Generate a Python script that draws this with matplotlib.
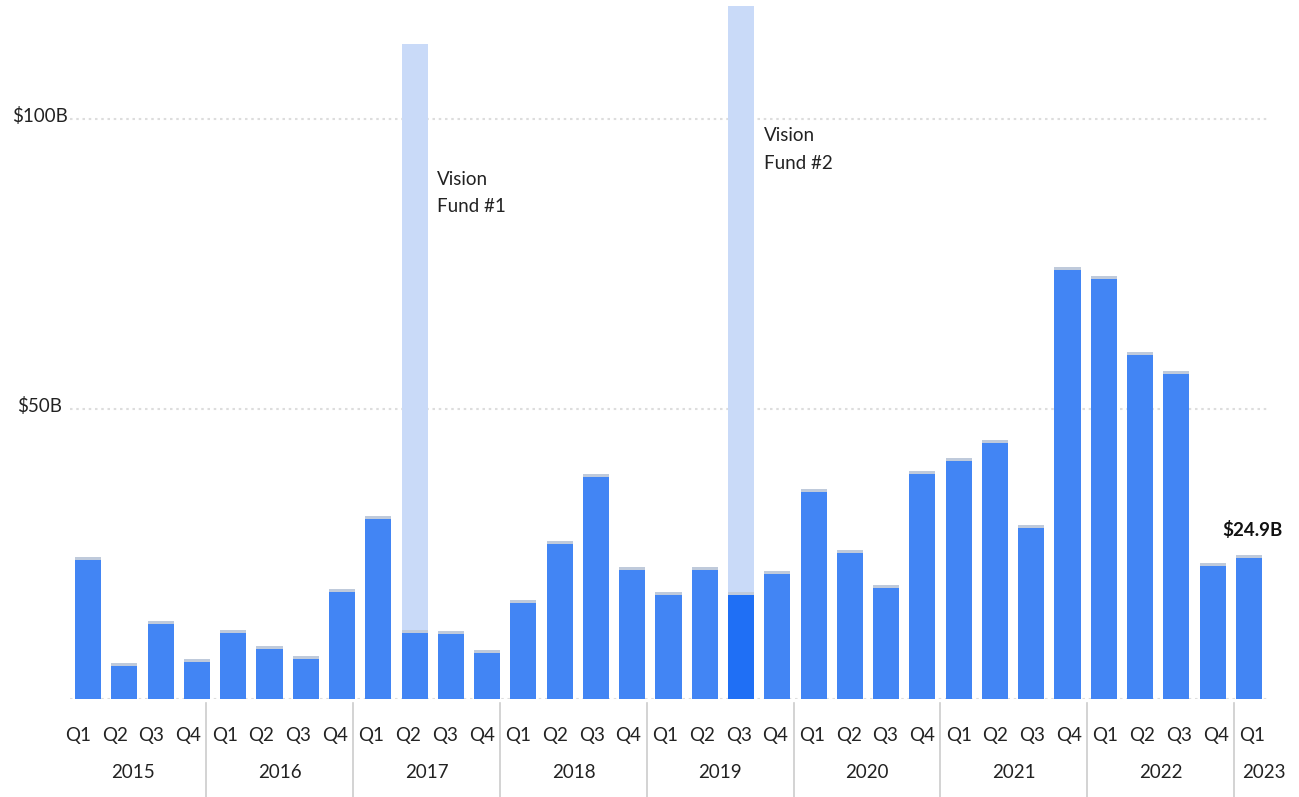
import numpy as np
import matplotlib
matplotlib.use("Agg")
import matplotlib.pyplot as plt

plt.rcParams['font.family'] = ['Lato', 'DejaVu Sans']

# 数据：每季度融资额（十亿美元），愿景基金单独列出
years = ['2015', '2016', '2017', '2018', '2019', '2020', '2021', '2022', '2023']
quarter_labels = ['Q1', 'Q2', 'Q3', 'Q4'] * 8 + ['Q1']
funding = [24.5, 6.2, 13.4, 6.9,
           11.9, 9.1, 7.4, 19.0,
           31.6, 11.9, 11.7, 8.4,
           17.1, 27.2, 38.8, 22.8,
           18.4, 22.8, 18.4, 22.1,
           36.2, 25.7, 19.7, 39.3,
           41.6, 44.7, 30.0, 74.5,
           72.9, 59.8, 56.6, 23.4,
           24.9]
vision_fund = [0.0] * 33
vision_fund[9] = 101.0   # 2017 Q2
vision_fund[18] = 101.1  # 2019 Q3
vf_labels = {9: 'Vision\nFund #1', 18: 'Vision\nFund #2'}

BLUE = '#4285f4'
DARK_BLUE = '#1f6ff5'
LIGHT = '#c9daf8'
CAP = '#bfcadb'
GRID = '#dddddd'
SEP = '#cccccc'
TXT = '#222222'
FS = 13.5

W, H = 1299, 797
fig = plt.figure(figsize=(W / 100, H / 100), dpi=100)
ax = fig.add_axes([70 / W, 1 - 699 / H, (1267 - 70) / W, 699 / H])
# 分类标签用单独的坐标轴（间距与柱子略有不同）
lab = fig.add_axes([59.65 / W, 0, (1270.75 - 59.65) / W, 1 - 699 / H])
lab.set_xlim(-0.5, 32.5)
lab.set_ylim(0, 98)
lab.axis('off')

x = np.arange(len(funding))
w = 0.72
colors = [DARK_BLUE if i == 18 else BLUE for i in x]
ax.bar(x, funding, width=w, color=colors, zorder=3)
# 顶部浅灰色小边
ax.bar(x, [0.55] * len(x), bottom=np.array(funding) - 0.55, width=w, color=CAP, zorder=4)
# 愿景基金部分
vf = np.array(vision_fund)
mask = vf > 0
ax.bar(x[mask], vf[mask], bottom=np.array(funding)[mask], width=w, color=LIGHT, zorder=3)

ax.set_xlim(-0.5, 32.5)
ax.set_ylim(0, 120.5)

# 网格线
for v in [0, 50, 100]:
    ax.axhline(v, color=GRID, linestyle=(0, (1.2, 1.8)), linewidth=1.5, zorder=1)
ax.text(-0.025, 100.5, '$100B', transform=ax.get_yaxis_transform(),
        ha='center', va='center', fontsize=FS, color=TXT)
ax.text(-0.025, 50.5, '$50B', transform=ax.get_yaxis_transform(),
        ha='center', va='center', fontsize=FS, color=TXT)

for s in ax.spines.values():
    s.set_visible(False)
ax.set_xticks([])
ax.set_yticks([])

# 季度和年份标签（lab 坐标：y 为距离图底部的像素）
for i, q in enumerate(quarter_labels):
    lab.text(i, 797 - 736, q, ha='center', va='center', fontsize=FS, color=TXT)
for k, yr in enumerate(years):
    center = 4 * k + 1.5 if k < 8 else 32.3
    lab.text(center, 797 - 772, yr, ha='center', va='center', fontsize=FS, color=TXT)
for k in range(8):
    lab.plot([4 * k + 3.5] * 2, [797 - 703, 0], color=SEP, linewidth=1.2, clip_on=False)

# 注释
for i, txt in vf_labels.items():
    top = funding[i] + vision_fund[i]
    offset = 21.8 if i == 9 else 20.9
    ax.text(i + 0.62, top - offset, txt, ha='left', va='top',
            fontsize=FS, color=TXT, linespacing=1.75)

ax.text(32.1, funding[32] + 2.7, '$24.9B', ha='center', va='bottom',
        fontsize=FS, fontweight='bold', color='#111111')

fig.savefig('out.png', dpi=100)
